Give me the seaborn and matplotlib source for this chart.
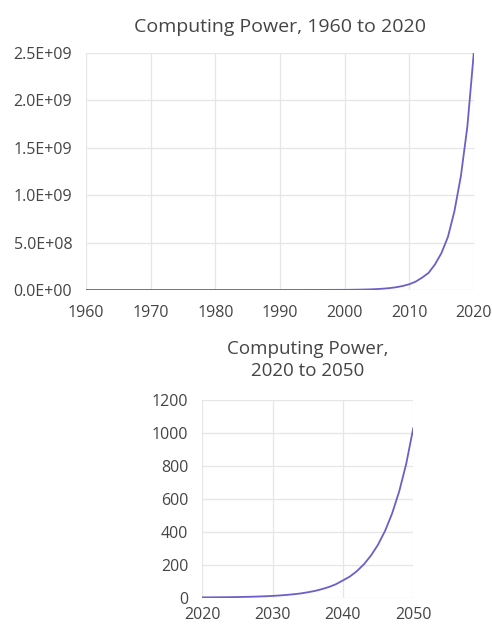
import numpy as np
import pandas as pd
import matplotlib
matplotlib.use("Agg")
import matplotlib.pyplot as plt
import seaborn as sns
from matplotlib.ticker import FuncFormatter

# Computing power, 1960 to 2020
years_past = [1960, 1965, 1970, 1975, 1980, 1985, 1990, 1995,
              2000, 2001, 2002, 2003, 2004, 2005, 2006, 2007, 2008, 2009,
              2010, 2011, 2012, 2013, 2014, 2015, 2016, 2017, 2018, 2019, 2020]
power_past = [1, 4, 26, 160, 1e3, 6e3, 4e4, 2.4e5,
              1.5e6, 2.1e6, 3.1e6, 4.5e6, 6.5e6, 9.5e6, 1.4e7, 2e7, 2.9e7, 4.2e7,
              6e7, 8.8e7, 1.3e8, 1.8e8, 2.7e8, 3.9e8, 5.6e8, 8.3e8, 1.2e9, 1.72e9, 2.5e9]

# Computing power, 2020 to 2050
years_future = list(range(2020, 2051))
power_future = [1, 1.3, 1.6, 2, 2.5, 3.2, 4, 5, 6.3, 8, 10, 12.7, 16, 20, 25, 32,
                40, 51, 64, 81, 104, 128, 161, 203, 256, 322, 406, 512, 645, 813, 1030]

past_ticks_x = [1960, 1970, 1980, 1990, 2000, 2010, 2020]
past_ticks_y = [0, 5e8, 1e9, 1.5e9, 2e9, 2.5e9]
future_ticks_x = [2020, 2030, 2040, 2050]
future_ticks_y = [0, 200, 400, 600, 800, 1000, 1200]

df_past = pd.DataFrame({"Year": years_past, "Power": power_past})
df_future = pd.DataFrame({"Year": years_future, "Power": power_future})

sns.set_style("white")
plt.rcParams["font.family"] = ["Open Sans", "DejaVu Sans"]

line_color = "#6a60c8"
grid_color = "#e6e6e6"
text_color = "#454545"

fig = plt.figure(figsize=(4.92, 6.29), dpi=100)
ax1 = fig.add_axes([0.175, 0.539, 0.788, 0.377])
ax2 = fig.add_axes([0.411, 0.05, 0.429, 0.314])

sns.lineplot(data=df_past, x="Year", y="Power", ax=ax1, color=line_color, linewidth=1.3)
sns.lineplot(data=df_future, x="Year", y="Power", ax=ax2, color=line_color, linewidth=1.3)

ax1.set_xlim(1960, 2020)
ax1.set_ylim(0, 2.5e9)
ax1.set_xticks(past_ticks_x)
ax1.set_yticks(past_ticks_y)
ax1.yaxis.set_major_formatter(FuncFormatter(lambda v, p: f"{v:.1E}"))
ax1.set_title("Computing Power, 1960 to 2020", fontsize=14, color=text_color, pad=15)

ax2.set_xlim(2020, 2050)
ax2.set_ylim(0, 1200)
ax2.set_xticks(future_ticks_x)
ax2.set_yticks(future_ticks_y)
ax2.set_title("Computing Power,\n2020 to 2050", fontsize=13.5, color=text_color, pad=17,
              linespacing=1.3)

for ax in (ax1, ax2):
    ax.set_xlabel("")
    ax.set_ylabel("")
    ax.grid(True, color=grid_color, linewidth=0.9)
    ax.set_axisbelow(True)
    for s in ax.spines.values():
        s.set_visible(False)
    ax.tick_params(axis="both", length=0, labelsize=11.5, colors=text_color)
    ax.tick_params(axis="y", pad=10)
ax1.tick_params(axis="x", pad=11)
ax2.tick_params(axis="x", pad=7)

fig.savefig("out.png", dpi=100, facecolor="white")
